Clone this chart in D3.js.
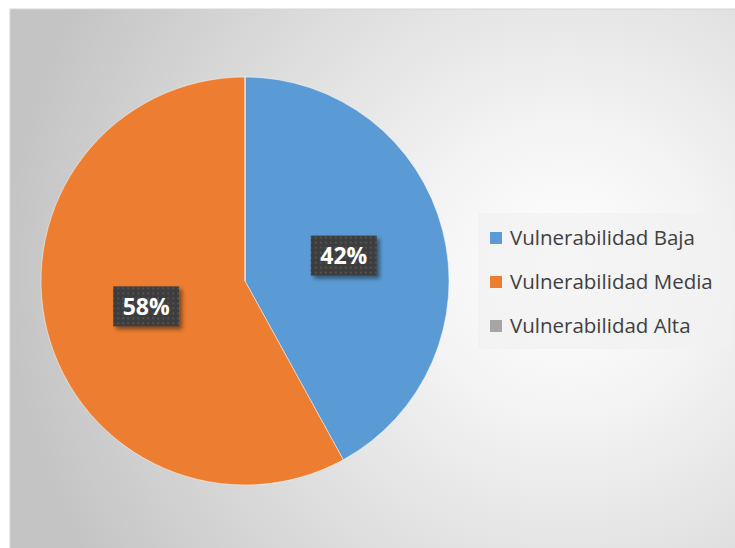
<!DOCTYPE html>
<html><head><meta charset="utf-8">
<script src="https://cdn.jsdelivr.net/npm/d3@7"></script>
<style>html,body{margin:0;padding:0;background:#fff;}svg{display:block;}</style>
</head><body>
<svg id="c" width="735" height="548"></svg>
<script>
const categories = ["Vulnerabilidad Baja", "Vulnerabilidad Media", "Vulnerabilidad Alta"];
const values = [42, 58, 0];
const labels = ["42%", "58%", ""];
const colors = ["#5b9bd5", "#ed7d31", "#a5a5a5"];

const svg = d3.select("#c");
const defs = svg.append("defs");
const rg = defs.append("radialGradient").attr("id","bg").attr("gradientUnits","userSpaceOnUse")
  .attr("cx",565).attr("cy",270).attr("r",560);
rg.append("stop").attr("offset",0).attr("stop-color","#ffffff");
rg.append("stop").attr("offset",0.25).attr("stop-color","#f4f4f4");
rg.append("stop").attr("offset",0.6).attr("stop-color","#dedede");
rg.append("stop").attr("offset",1).attr("stop-color","#c4c4c4");

const pat = defs.append("pattern").attr("id","dots").attr("patternUnits","userSpaceOnUse")
  .attr("width",5).attr("height",5);
pat.append("rect").attr("width",5).attr("height",5).attr("fill","#3d3d3d");
pat.append("rect").attr("x",1).attr("y",1).attr("width",2).attr("height",2).attr("fill","#525252");

const flt = defs.append("filter").attr("id","sh").attr("x","-30%").attr("y","-30%").attr("width","160%").attr("height","160%");
flt.append("feGaussianBlur").attr("in","SourceAlpha").attr("stdDeviation",2).attr("result","b");
flt.append("feOffset").attr("in","b").attr("dx",3).attr("dy",3).attr("result","o");
flt.append("feComponentTransfer").attr("in","o").attr("result","o2").append("feFuncA").attr("type","linear").attr("slope",0.45);
const fm = flt.append("feMerge");
fm.append("feMergeNode").attr("in","o2");
fm.append("feMergeNode").attr("in","SourceGraphic");

svg.append("rect").attr("x",10).attr("y",9).attr("width",735).attr("height",548)
  .attr("fill","url(#bg)").attr("stroke","#d6d6d6").attr("stroke-width",1);

const cx = 245, cy = 281, R = 204;
const pie = d3.pie().sort(null).value(d => d)(values);
const arc = d3.arc().innerRadius(0).outerRadius(R);
const g = svg.append("g").attr("transform",`translate(${cx},${cy})`);
g.selectAll("path").data(pie).join("path")
  .attr("d",arc).attr("fill",(d,i)=>colors[i])
  .attr("stroke","#ffffff").attr("stroke-width",0.8).attr("stroke-opacity",0.6);

const labArc = d3.arc().innerRadius(R*0.5).outerRadius(R*0.5);
const lg = g.selectAll("g.lab").data(pie.filter(d=>d.value>0)).join("g").attr("class","lab")
  .attr("transform",d=>{const c=labArc.centroid(d);return `translate(${c[0]},${c[1]})`;});
lg.append("rect").attr("x",-33).attr("y",-20).attr("width",66).attr("height",40)
  .attr("fill","url(#dots)").attr("filter","url(#sh)");
lg.append("text").attr("text-anchor","middle").attr("dy","0.36em")
  .attr("font-family","'Open Sans', sans-serif").attr("font-weight","bold").attr("font-size",23)
  .attr("fill","#ffffff").text(d=>labels[d.index]);

// legend
const leg = svg.append("g");
leg.append("rect").attr("x",478).attr("y",213).attr("width",252).attr("height",136).attr("fill","#f1f1f1").attr("opacity",0.7);
const ly = d3.scalePoint().domain(categories).range([238,326]);
const items = leg.selectAll("g.it").data(categories).join("g").attr("class","it")
  .attr("transform",d=>`translate(490,${ly(d)})`);
items.append("rect").attr("x",0).attr("y",-6).attr("width",12).attr("height",12).attr("fill",(d,i)=>colors[i]);
items.append("text").attr("x",20).attr("dy","0.35em")
  .attr("font-family","'Open Sans', sans-serif").attr("font-size",20.5).attr("fill","#404040").text(d=>d);
</script>
</body></html>
